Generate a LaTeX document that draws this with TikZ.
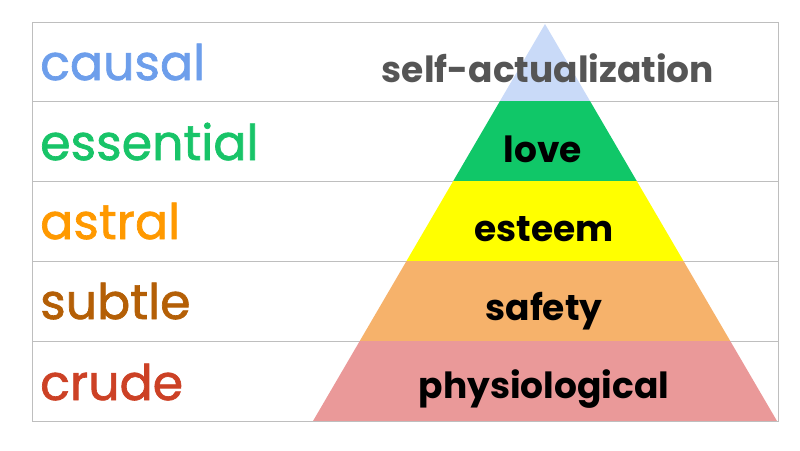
\documentclass[tikz,border=0pt]{standalone}
\usepackage{fontspec}
\setmainfont{Poppins}
\newfontfamily\levelfont{Poppins}[FakeBold=1.4]
\usetikzlibrary{positioning}
\definecolor{gridgray}{RGB}{190,190,190}
\definecolor{selfblue}{RGB}{201,218,248}
\definecolor{lovegreen}{RGB}{16,199,104}
\definecolor{esteemyellow}{RGB}{255,255,0}
\definecolor{safetyorange}{RGB}{246,178,107}
\definecolor{physpink}{RGB}{234,153,153}
\definecolor{causalblue}{RGB}{109,158,235}
\definecolor{essentialgreen}{RGB}{24,196,104}
\definecolor{astralorange}{RGB}{255,153,0}
\definecolor{subtlebrown}{RGB}{180,95,6}
\definecolor{crudered}{RGB}{204,65,37}
\definecolor{selfgray}{RGB}{85,85,85}

\begin{document}
\begin{tikzpicture}[x=1pt,y=-1pt,
  gridline/.style={draw=gridgray, line width=1pt},
  level label/.style={anchor=base west, inner sep=0pt, font=\levelfont\fontsize{49}{49}\selectfont},
  need label/.style={anchor=base, inner sep=0pt, font=\fontsize{36}{36}\selectfont\bfseries}]
    \useasboundingbox (0,0) rectangle (800,450);
    % table: outer frame and row lines
    \draw[gridline] (32,22) rectangle (778,421);
    \foreach \y in {101,181,261,341}
        \draw[gridline] (32,\y) -- (778,\y);

    % pyramid: clip to the triangle, then one band per row
    \coordinate (apex) at (545,24);
    \coordinate (base-l) at (313,421);
    \coordinate (base-r) at (777,421);
    \begin{scope}
        \clip (apex) -- (base-l) -- (base-r) -- cycle;
        \foreach \top/\bot/\col in {0/101/selfblue, 101/181/lovegreen,
            181/261/esteemyellow, 261/341/safetyorange, 341/421/physpink}
            \fill[\col] (300,\top) rectangle (790,\bot);
    \end{scope}

    % levels on the left
    \node[level label, causalblue] (causal) at (40,80) {causal};
    \node[level label, essentialgreen] (essential) at (40,160) {essential};
    \node[level label, astralorange] (astral) at (40,239) {astral};
    \node[level label, subtlebrown] (subtle) at (40,319) {subtle};
    \node[level label, crudered] (crude) at (40,400) {crude};

    % needs in the pyramid
    \node[need label, selfgray] (self) at (548,82) {self-actualization};
    \node[need label] (love) at (543,162) {love};
    \node[need label] (esteem) at (544,241) {esteem};
    \node[need label] (safety) at (544,320) {safety};
    \node[need label] (physio) at (544,398) {physiological};
\end{tikzpicture}
\end{document}
